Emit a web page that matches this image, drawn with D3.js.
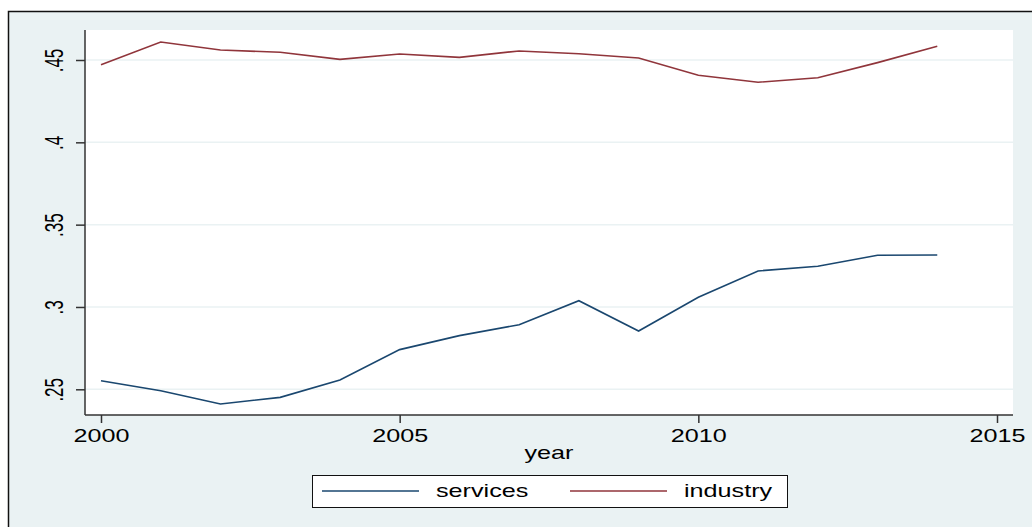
<!DOCTYPE html>
<html>
<head>
<meta charset="utf-8">
<script src="https://cdn.jsdelivr.net/npm/d3@7"></script>
<style>
  body { margin: 0; background: #fff; }
  svg { display: block; font-family: "Liberation Sans", Arial, sans-serif; }
</style>
</head>
<body>
<svg id="chart" width="1032" height="527"></svg>
<script>
// data
const years = [2000, 2001, 2002, 2003, 2004, 2005, 2006, 2007, 2008, 2009, 2010, 2011, 2012, 2013, 2014];
const services = [0.2552, 0.2491, 0.2411, 0.2451, 0.2557, 0.2741, 0.2826, 0.2892, 0.3038, 0.2854, 0.3059, 0.3219, 0.3247, 0.3314, 0.3316];
const industry = [0.4471, 0.4609, 0.4561, 0.4547, 0.4504, 0.4536, 0.4516, 0.4555, 0.4538, 0.4512, 0.4407, 0.4365, 0.4392, 0.4484, 0.4583];
const yTicks = [0.25, 0.3, 0.35, 0.4, 0.45];
const yTickLabels = ['.25', '.3', '.35', '.4', '.45'];
const xTicks = [2000, 2005, 2010, 2015];
const seriesNames = ['services', 'industry'];
const seriesColors = ['#1a476f', '#90353b'];

const svg = d3.select('#chart');
const bg = '#eaf2f3';
// the reference text is stretched sideways
const stretch = 'scale(1.4,1)';

// graph region (cropped, border runs off right/bottom)
svg.append('rect')
    .attr('x', 8.5).attr('y', 11.5)
    .attr('width', 1040).attr('height', 540)
    .attr('fill', bg)
    .attr('stroke', '#111').attr('stroke-width', 1.5);

const plot = { left: 85, right: 1013, top: 30, bottom: 415 };

svg.append('rect')
    .attr('x', plot.left).attr('y', plot.top)
    .attr('width', plot.right - plot.left).attr('height', plot.bottom - plot.top)
    .attr('fill', '#fff');

const x = d3.scaleLinear().domain([2000, 2015]).range([101, 997]);
const y = d3.scaleLinear().domain([0.25, 0.45]).range([389.3, 60]);

// grid
svg.append('g').selectAll('line').data(yTicks).enter().append('line')
    .attr('x1', plot.left).attr('x2', plot.right)
    .attr('y1', d => y(d)).attr('y2', d => y(d))
    .attr('stroke', bg).attr('stroke-width', 1.5);

// y axis
const yAxis = svg.append('g')
    .attr('transform', 'translate(' + plot.left + ',0)')
    .call(d3.axisLeft(y).tickValues(yTicks).tickSize(9).tickSizeOuter(0)
        .tickFormat((d, i) => yTickLabels[i]));
yAxis.select('.domain').attr('d', 'M0,' + plot.top + 'V' + plot.bottom);
yAxis.selectAll('.domain, .tick line').attr('stroke', '#333').attr('stroke-width', 1.5);
yAxis.selectAll('.tick text')
    .attr('x', 0).attr('y', 0).attr('dy', 0)
    .attr('transform', 'translate(-22,0) scale(1.5,1) rotate(-90)')
    .attr('text-anchor', 'middle')
    .attr('font-size', 17).attr('fill', '#000')
    .attr('font-family', '"Liberation Sans", Arial, sans-serif');

// x axis
const xAxis = svg.append('g')
    .attr('transform', 'translate(0,' + plot.bottom + ')')
    .call(d3.axisBottom(x).tickValues(xTicks).tickSize(8).tickSizeOuter(0).tickFormat(d3.format('d')));
xAxis.select('.domain').attr('d', 'M' + plot.left + ',0H' + plot.right);
xAxis.selectAll('.domain, .tick line').attr('stroke', '#333').attr('stroke-width', 1.5);
xAxis.selectAll('.tick text')
    .attr('y', 0).attr('dy', 0)
    .attr('transform', 'translate(0,27) ' + stretch)
    .attr('font-size', 18).attr('fill', '#000')
    .attr('font-family', '"Liberation Sans", Arial, sans-serif');

svg.append('text')
    .attr('transform', 'translate(549,459) ' + stretch)
    .attr('text-anchor', 'middle').attr('font-size', 18)
    .text('year');

// lines
const line = d3.line().x((d, i) => x(years[i])).y(d => y(d));
[services, industry].forEach((s, k) => {
    svg.append('path')
        .datum(s)
        .attr('d', line)
        .attr('fill', 'none')
        .attr('stroke', seriesColors[k])
        .attr('stroke-width', 1.6);
});

// legend
svg.append('rect')
    .attr('x', 312.5).attr('y', 475.5).attr('width', 475).attr('height', 32)
    .attr('fill', '#fff').attr('stroke', '#111').attr('stroke-width', 1);
const legendLineX = [322, 570];
const legendTextX = [436, 684];
seriesNames.forEach((name, k) => {
    svg.append('line')
        .attr('x1', legendLineX[k]).attr('x2', legendLineX[k] + 97)
        .attr('y1', 491).attr('y2', 491)
        .attr('stroke', seriesColors[k]).attr('stroke-width', 1.6);
    svg.append('text')
        .attr('transform', 'translate(' + legendTextX[k] + ',497) ' + stretch)
        .attr('font-size', 18)
        .text(name);
});
</script>
</body>
</html>
